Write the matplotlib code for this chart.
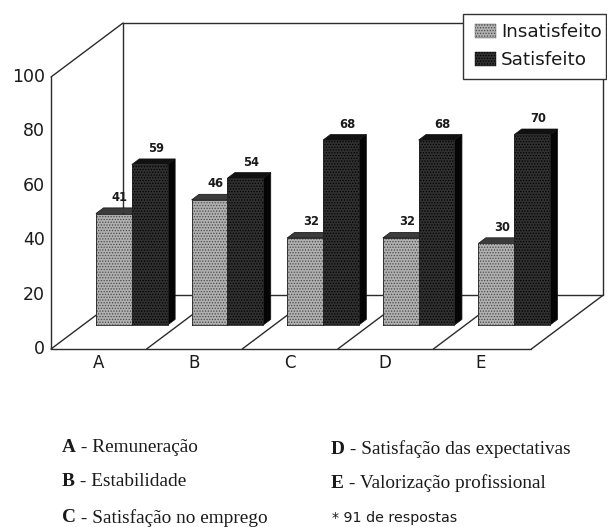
import matplotlib
matplotlib.use('Agg')
import matplotlib.pyplot as plt

categories = ['A', 'B', 'C', 'D', 'E']
insatisfeito = [41, 46, 32, 32, 30]
satisfeito = [59, 54, 68, 68, 70]
y_ticks = [0, 20, 40, 60, 80, 100]
notes_left = [('A', ' - Remuneração'), ('B', ' - Estabilidade'), ('C', ' - Satisfação no emprego')]
notes_right = [('D', ' - Satisfação das expectativas'), ('E', ' - Valorização profissional')]
footnote = '* 91 de respostas'

W, H = 607, 527
plt.rcParams['hatch.linewidth'] = 0.6

fig = plt.figure(figsize=(W / 100, H / 100), dpi=100)
ax = fig.add_axes([0, 0, 1, 1])
# x axis in category units, y axis in chart value units, so bars use their values
px_x = 95.6
px_y = 2.72
x0, y0 = 51, 349
ax.set_xlim(-x0 / px_x, (W - x0) / px_x)
ax.set_ylim((y0 - H) / px_y, y0 / px_y)
ax.axis('off')

# oblique projection: depth 0 = front of floor, depth 1 = back wall
depth_x = 72 / px_x
depth_y = 54 / px_y


def proj(x, d, v):
    return x + d * depth_x, v + d * depth_y


def line3(p, q, **kw):
    a = proj(*p)
    b = proj(*q)
    ax.plot([a[0], b[0]], [a[1], b[1]], color='#2b2b2b', lw=1.0, solid_capstyle='round', **kw)


n = len(categories)
end = n + 0.025
# walls and floor
line3((0, 0, 0), (0, 0, 100), zorder=1)
line3((0, 0, 100), (0, 1, 100), zorder=1)
line3((0, 1, 0), (0, 1, 100), zorder=1)
line3((0, 1, 100), (end, 1, 100), zorder=1)
line3((end, 1, 0), (end, 1, 100), zorder=1)
line3((0, 1, 0), (end, 1, 0), zorder=1)
line3((0, 0, 0), (end, 0, 0), zorder=1)
for i in range(1, n):
    line3((i, 0, 0), (i, 1, 0), zorder=1)
line3((end, 0, 0), (end, 1, 0), zorder=1)
line3((0, 0, 0), (0, 1, 0), zorder=1)

d_front, d_back = 0.444, 0.548
bar_w = 0.375
offset = 0.136
colors = {
    'g': dict(face='#b0b0b0', hatch_col='#4a4a4a', top='#3c3c3c', side='#444444'),
    'd': dict(face='#303030', hatch_col='#000000', top='#111111', side='#050505'),
}


def bar3d(x, v, c, z):
    st = colors[c]
    # side face
    pts = [proj(x + bar_w, d_front, 0), proj(x + bar_w, d_back, 0),
           proj(x + bar_w, d_back, v), proj(x + bar_w, d_front, v)]
    ax.fill(*zip(*pts), facecolor=st['side'], edgecolor='#111111', lw=0.5, zorder=z)
    # top face
    pts = [proj(x, d_front, v), proj(x, d_back, v),
           proj(x + bar_w, d_back, v), proj(x + bar_w, d_front, v)]
    ax.fill(*zip(*pts), facecolor=st['top'], edgecolor='#111111', lw=0.5, zorder=z)
    # front face
    pts = [proj(x, d_front, 0), proj(x + bar_w, d_front, 0),
           proj(x + bar_w, d_front, v), proj(x, d_front, v)]
    ax.fill(*zip(*pts), facecolor=st['face'], edgecolor=st['hatch_col'],
            hatch='.' * 6, lw=0, zorder=z + 0.1)
    ax.plot(*zip(*(pts + pts[:1])), color='#222222', lw=0.6, zorder=z + 0.2)


for i in range(n):
    x = i + offset
    bar3d(x, insatisfeito[i], 'g', 3)
    bar3d(x + bar_w, satisfeito[i], 'd', 4)
    lx, ly = proj(x + bar_w / 2, d_front, insatisfeito[i])
    ax.annotate(str(insatisfeito[i]), (lx, ly), xytext=(6, 16), textcoords='offset pixels',
                ha='center', va='center', fontsize=8.3, fontweight='bold', color='#1a1a1a', zorder=2)
    lx, ly = proj(x + bar_w * 1.5, d_front, satisfeito[i])
    ax.annotate(str(satisfeito[i]), (lx, ly), xytext=(6, 16), textcoords='offset pixels',
                ha='center', va='center', fontsize=8.3, fontweight='bold', color='#1a1a1a', zorder=6)
    ax.annotate(categories[i], (i, 0), xytext=(47.5, -14), textcoords='offset pixels',
                ha='center', va='center', fontsize=12, color='#1a1a1a')

for t in y_ticks:
    ax.annotate(str(t), (0, t), xytext=(-6, 0), textcoords='offset pixels',
                ha='right', va='center', fontsize=12.5, color='#1a1a1a')

# legend box, drawn in figure fractions from pixel positions


def fx(p):
    return p / W


def fy(p):
    return 1 - p / H


fig.patches.append(plt.Rectangle((fx(463), fy(79)), fx(143), fy(14) - fy(79), transform=fig.transFigure,
                                 facecolor='white', edgecolor='#333333', lw=1.0, zorder=10))
for name, c, yp in [('Insatisfeito', 'g', 31), ('Satisfeito', 'd', 59)]:
    st = colors[c]
    fig.patches.append(plt.Rectangle((fx(475), fy(yp + 7)), fx(21), fy(yp - 7) - fy(yp + 7),
                                     transform=fig.transFigure, facecolor=st['face'],
                                     edgecolor=st['hatch_col'], hatch='.' * 6, lw=0.3, zorder=11))
    fig.text(fx(501), fy(yp + 1), name, fontsize=13.2, va='center', ha='left', color='#1a1a1a', zorder=12)

# notes below the chart
serif = 'Liberation Serif'
size = 13.9
for rows, xp, rows_y in [(notes_left, 62, [448, 482, 518]), (notes_right, 331, [449, 483])]:
    for (letter, rest), yp in zip(rows, rows_y):
        t = fig.text(fx(xp), fy(yp), letter, family=serif, fontweight='bold', fontsize=size,
                     va='center', ha='left', color='#1a1a1a')
        fig.canvas.draw()
        ext = t.get_window_extent()
        fig.text(ext.x1 / W, fy(yp), rest, family=serif, fontsize=size, va='center', ha='left', color='#1a1a1a')
fig.text(fx(332), fy(518), footnote, fontsize=10.3, va='center', ha='left', color='#1a1a1a')

fig.savefig('out.png', dpi=100)
